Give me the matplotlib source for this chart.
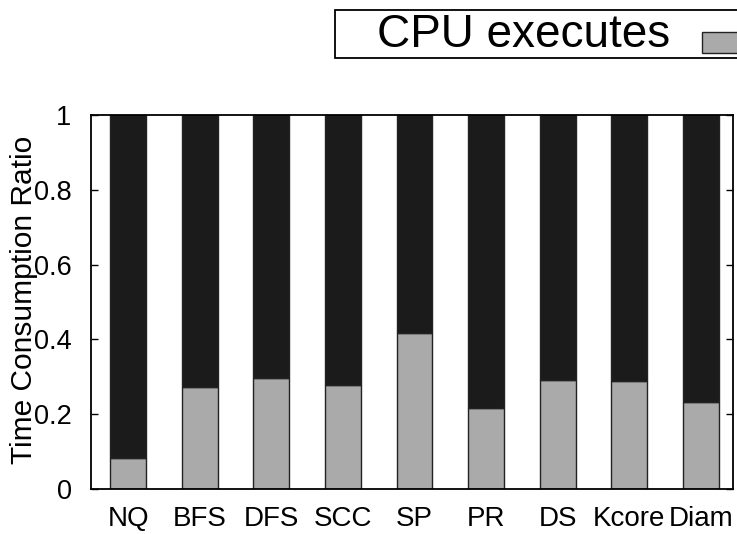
import numpy as np
import matplotlib.pyplot as plt
from matplotlib.patches import Rectangle

plt.rcParams['font.family'] = ['Liberation Sans', 'DejaVu Sans']

# data
algos = ['NQ', 'BFS', 'DFS', 'SCC', 'SP', 'PR', 'DS', 'Kcore', 'Diam']
cpu = [0.082, 0.272, 0.297, 0.278, 0.416, 0.216, 0.291, 0.289, 0.232]
rest = [1 - v for v in cpu]
yticks = [0, 0.2, 0.4, 0.6, 0.8, 1]
ylabels = ['0', '0.2', '0.4', '0.6', '0.8', '1']

W, H = 737, 534
def fx(px):
    return px / W
def fy(py):
    return 1 - py / H

fig = plt.figure(figsize=(W / 100, H / 100), dpi=100)
ax = fig.add_axes([fx(91), fy(489), (733 - 91) / W, (489 - 115) / H])

x = np.arange(len(algos))
ax.bar(x, cpu, width=0.5, color='#aaaaaa', edgecolor='#222222', linewidth=1)
ax.bar(x, rest, width=0.5, bottom=cpu, color='#1b1b1b', edgecolor='#222222', linewidth=1)

ax.set_xlim(-0.52, 8.45)
ax.set_ylim(0, 1)
ax.set_xticks(x)
ax.set_xticklabels(algos, fontsize=20)
ax.set_yticks(yticks)
ax.set_yticklabels(ylabels, fontsize=19.5)
ax.tick_params(axis='x', length=0, pad=12)
ax.tick_params(axis='y', direction='in', length=5, width=1, pad=14, right=True)
for s in ax.spines.values():
    s.set_linewidth(1.3)

ax.set_ylabel('Time Consumption Ratio', fontsize=21.5)
ax.yaxis.set_label_coords(-0.082, 0.505)

# legend box, cut off at the right edge as in the picture
fig.add_artist(Rectangle((fx(335), fy(58)), fx(780) - fx(335), fy(10) - fy(58),
                         transform=fig.transFigure, facecolor='white',
                         edgecolor='black', linewidth=1.3))
fig.text(fx(377), fy(35), 'CPU executes', fontsize=33, ha='left', va='center')
fig.add_artist(Rectangle((fx(702), fy(53)), fx(780) - fx(702), fy(32) - fy(53),
                         transform=fig.transFigure, facecolor='#aaaaaa',
                         edgecolor='#222222', linewidth=1))

fig.savefig('out.png', dpi=100)
